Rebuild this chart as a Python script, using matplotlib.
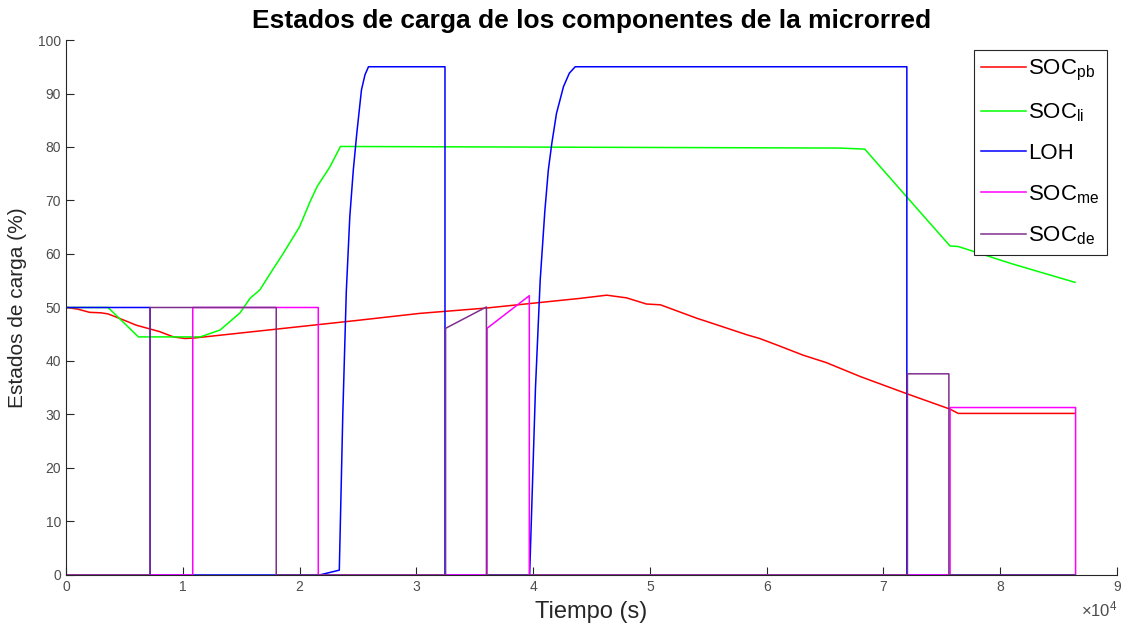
import numpy as np
import matplotlib.pyplot as plt
from matplotlib.ticker import MultipleLocator

plt.rcParams['font.family'] = ['Liberation Sans', 'DejaVu Sans']
plt.rcParams['mathtext.fontset'] = 'custom'
plt.rcParams['mathtext.rm'] = 'Liberation Sans'
plt.rcParams['mathtext.default'] = 'regular'

# time in units of 1e4 s
t_pb = [0, 0.1, 0.2, 0.3, 0.36, 0.5, 0.6, 0.8, 0.92, 1.02, 1.1, 2.5, 3.03, 3.6, 4.4, 4.63,
        4.8, 4.97, 5.09, 5.4, 5.54, 5.83, 5.94, 6.11, 6.31, 6.51, 6.8, 7.21, 7.57, 7.64, 8.64]
soc_pb = [50, 49.7, 49.1, 49.0, 48.8, 47.6, 46.7, 45.5, 44.5, 44.2, 44.3, 47.6, 48.9, 49.9, 51.7, 52.3,
          51.8, 50.65, 50.5, 48.0, 47.0, 44.9, 44.2, 42.8, 41.1, 39.7, 37.1, 33.8, 31.0, 30.2, 30.2]

t_li = [0, 0.36, 0.62, 1.15, 1.32, 1.49, 1.575, 1.66, 1.75, 1.86, 2.0, 2.09, 2.15, 2.26, 2.35,
        6.63, 6.84, 7.21, 7.57, 7.64, 8.11, 8.64]
soc_li = [50, 50, 44.5, 44.5, 45.8, 49.0, 51.7, 53.3, 56.4, 60.1, 65.1, 69.8, 72.6, 76.3, 80.1,
          79.8, 79.6, 70.4, 61.5, 61.4, 58.1, 54.7]

t_loh = [0, 0.72, 0.72, 2.17, 2.34, 2.37, 2.40, 2.43, 2.46, 2.49, 2.53, 2.56, 2.59, 3.245, 3.245,
         3.97, 4.02, 4.06, 4.10, 4.13, 4.16, 4.20, 4.26, 4.31, 4.36, 7.2, 7.2, 8.64]
loh = [50, 50, 0, 0, 0.9, 30, 53, 67, 75.7, 82.6, 90.7, 93.5, 95, 95, 0,
       0, 35, 55, 68, 75.7, 80.7, 86.3, 91.3, 93.8, 95, 95, 0, 0]

t_me = [0, 1.085, 1.085, 2.16, 2.16, 3.605, 3.605, 3.967, 3.967, 7.57, 7.57, 8.645, 8.645]
soc_me = [0, 0, 50, 50, 0, 0, 46.1, 52.2, 0, 0, 31.3, 31.3, 0]

t_de = [0, 0.72, 0.72, 1.80, 1.80, 3.25, 3.25, 3.60, 3.60, 7.205, 7.205, 7.56, 7.56, 8.64]
soc_de = [0, 0, 50, 50, 0, 0, 46.1, 50.1, 0, 0, 37.6, 37.6, 0, 0]

series = [
    (t_pb, soc_pb, '#ff0000', 'SOC$_{pb}$'),
    (t_li, soc_li, '#00ff00', 'SOC$_{li}$'),
    (t_loh, loh, '#0000ff', 'LOH'),
    (t_me, soc_me, '#ff00ff', 'SOC$_{me}$'),
    (t_de, soc_de, '#7e2f8e', 'SOC$_{de}$'),
]

fig = plt.figure(figsize=(11.23, 6.34), dpi=100)
ax = fig.add_axes([0.0588, 0.0931, 0.9359, 0.8438])

for t, y, c, lab in series:
    ax.plot(np.array(t) * 1e4, y, color=c, lw=1.1, label=lab)

ax.set_xlim(0, 9e4)
ax.set_ylim(0, 100)
ax.set_xticks(np.arange(10) * 1e4)
ax.set_xticklabels([str(i) for i in range(10)])
ax.yaxis.set_major_locator(MultipleLocator(10))

for s in ['top', 'right']:
    ax.spines[s].set_visible(False)
for s in ['left', 'bottom']:
    ax.spines[s].set_color('#262626')
    ax.spines[s].set_linewidth(0.8)
ax.tick_params(direction='in', length=6, width=0.8, colors='#262626', labelcolor='#4d4d4d',
               labelsize=10)

ax.text(1.0, -0.046, r'$\times10^{4}$', transform=ax.transAxes, ha='right', va='top',
        fontsize=12, color='#4d4d4d')

ax.set_title('Estados de carga de los componentes de la microrred', fontsize=19,
             fontweight='bold', pad=9)
ax.set_xlabel('Tiempo (s)', fontsize=17, color='#262626', labelpad=5)
ax.set_ylabel('Estados de carga (%)', fontsize=15, color='#262626', labelpad=8)

leg = ax.legend(loc='upper right', fontsize=16, frameon=True, fancybox=False,
                framealpha=1, edgecolor='#262626', handlelength=2.0, handletextpad=0.1,
                labelspacing=0.85, borderaxespad=0.45, borderpad=0.35)
leg.get_frame().set_linewidth(0.8)

fig.savefig('out.png', dpi=100)
